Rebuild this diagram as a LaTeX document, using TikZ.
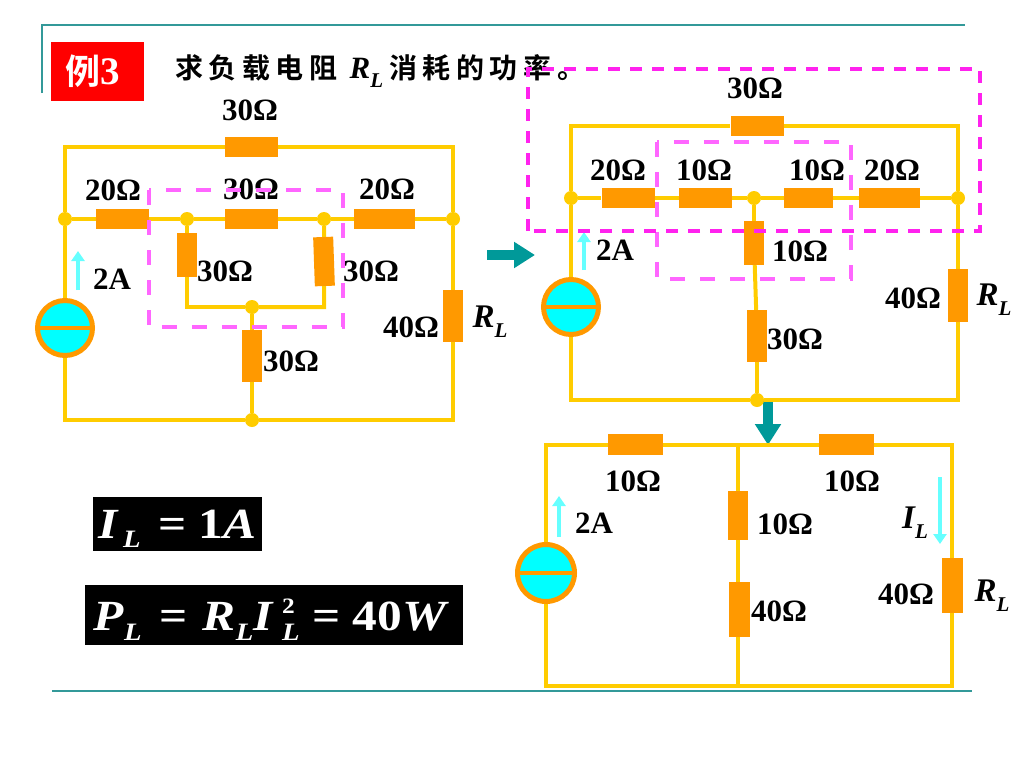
\documentclass[tikz,border=0pt]{standalone}
\usepackage{fontspec}
\usepackage{xcolor}
\setmainfont{Liberation Serif}
\newfontfamily\cjk[LetterSpace=20,BoldFont={Noto Sans CJK SC Bold}]{Noto Sans CJK SC}
\newfontfamily\cjktag[BoldFont={Noto Sans CJK SC Bold}]{Noto Sans CJK SC}
\newfontfamily\eqfont[FakeStretch=1.15]{Liberation Serif}
\usetikzlibrary{arrows.meta,positioning}
\definecolor{wirecol}{HTML}{FFCC00}
\definecolor{rescol}{HTML}{FF9900}
\definecolor{srccol}{HTML}{00FFFF}
\definecolor{curcol}{HTML}{66FFFF}
\definecolor{tealcol}{HTML}{009999}
\definecolor{rulecol}{HTML}{339999}
\definecolor{pinkcol}{HTML}{FF66FF}
\definecolor{magcol}{HTML}{FF22EE}
\newcommand{\symL}[1]{{\bfseries\itshape #1\raisebox{-.3em}{\fontsize{21}{21}\selectfont L}}}
\newcommand{\eqsub}[1]{\raisebox{#1}{\fontsize{25}{25}\selectfont\itshape L}}
\tikzset{
    wire/.style={draw=wirecol, line width=4pt},
    resh/.style={fill=rescol, inner sep=0pt, minimum width=53pt, minimum height=20pt},
    resv/.style={fill=rescol, inner sep=0pt, minimum width=20pt, minimum height=52pt},
    junc/.style={circle, fill=wirecol, inner sep=0pt, minimum size=14pt},
    srcnode/.style={circle, draw=rescol, fill=srccol, line width=5pt, inner sep=0pt, minimum size=55pt},
    srcbar/.style={draw=rescol, line width=4pt},
    lbl/.style={font=\fontsize{31}{31}\selectfont\bfseries, inner sep=0pt},
    symlbl/.style={font=\fontsize{33}{33}\selectfont\bfseries, inner sep=0pt},
    curarrow/.style={draw=curcol, line width=4pt, -{Triangle[length=10pt,width=13pt]}},
    bigarrow/.style={draw=tealcol, line width=10pt, -{Triangle[length=21pt,width=25pt]}},
    rulel/.style={draw=rulecol, line width=2pt},
    pinkbox/.style={draw=pinkcol, line width=4pt, dash pattern=on 15pt off 15pt},
    magbox/.style={draw=magcol, line width=3.5pt, dash pattern=on 12pt off 10pt},
    eqbox/.style={fill=black, text=white, inner sep=0pt, font=\fontsize{43}{43}\selectfont\eqfont\bfseries}
}
\begin{document}
\begin{tikzpicture}[x=1pt, y=-1pt]
    \useasboundingbox (0,0) rectangle (1024,768);

    % frame lines and heading
    \draw[rulel] (42,93) -- (42,25) -- (965,25);
    \draw[rulel] (52,691) -- (972,691);
    \node (tag) [fill=red, text=white, inner sep=0pt, minimum width=93pt, minimum height=59pt] at (97.5,71.5)
        {\fontsize{35}{35}\selectfont\cjktag\bfseries 例{\rmfamily\bfseries\fontsize{39}{39}\selectfont 3}\hspace{10pt}\mbox{}};
    \node (title) [anchor=west, inner sep=0pt, font=\fontsize{28}{28}\selectfont] at (175,71)
        {{\cjk\bfseries 求负载电阻}\hspace{12pt}{\fontsize{31}{31}\selectfont\symL{R}}\hspace{6pt}{\cjk\bfseries 消耗的功率。}};

    % first circuit
    \node (ra1) [resh] at (251.5,146.5) {};
    \node (ra2) [resh] at (122.5,219) {};
    \node (ra3) [resh] at (251.5,219) {};
    \node (ra4) [resh, minimum width=61pt] at (384.5,219) {};
    \node (ra5) [resv, minimum height=44pt] at (187,255) {};
    \node (ra6) [resv, minimum height=49pt, rotate=2] at (324,261.5) {};
    \node (ra7) [resv] at (252,356) {};
    \node (rl1) [resv] at (453,316) {};
    \node (ja1) [junc] at (65,219) {};
    \node (ja2) [junc] at (187,219) {};
    \node (ja3) [junc] at (324,219) {};
    \node (ja4) [junc] at (453,219) {};
    \node (ja5) [junc] at (252,307) {};
    \node (ja6) [junc] at (252,420) {};
    \node (src1) [srcnode] at (65,328) {};
    \coordinate (ca1) at (65,146.5);
    \coordinate (ca2) at (453,146.5);
    \coordinate (ca3) at (65,420);
    \coordinate (ca4) at (453,420);
    \coordinate (ca5) at (187,307);
    \coordinate (ca6) at (324,307);
    \coordinate (ia1) at (78,290);
    \coordinate (ia2) at (78,251);

    \draw[wire] (ja1) -- (ca1) -- (ra1);
    \draw[wire] (ra1) -- (ca2) -- (ja4);
    \draw[wire] (ja1) -- (ra2);
    \draw[wire] (ra2) -- (ja2);
    \draw[wire] (ja2) -- (ra3);
    \draw[wire] (ra3) -- (ja3);
    \draw[wire] (ja3) -- (ra4);
    \draw[wire] (ra4) -- (ja4);
    \draw[wire] (ja2) -- (ra5);
    \draw[wire] (ra5) -- (ca5) -- (ja5);
    \draw[wire] (ja3) -- (ra6);
    \draw[wire] (ra6) -- (ca6) -- (ja5);
    \draw[wire] (ja5) -- (ra7);
    \draw[wire] (ra7) -- (ja6);
    \draw[wire] (ja4) -- (rl1);
    \draw[wire] (rl1) -- (ca4) -- (ja6);
    \draw[wire] (ja6) -- (ca3) -- (src1);
    \draw[wire] (src1) -- (ja1);
    \draw[srcbar] (src1.west) -- (src1.east);
    \draw[curarrow] (ia1) -- (ia2);

    \node (ta1) [lbl] at (250,110) {30Ω};
    \node (ta2) [lbl] at (113,190) {20Ω};
    \node (ta3) [lbl] at (251,189) {30Ω};
    \node (ta4) [lbl] at (387,189) {20Ω};
    \node (ta5) [lbl] at (225,271) {30Ω};
    \node (ta6) [lbl] at (371,271) {30Ω};
    \node (ta7) [lbl] at (291,361) {30Ω};
    \node (ta8) [lbl] at (411,327) {40Ω};
    \node (ta9) [lbl] at (112,279) {2A};
    \node (ta10) [symlbl] at (490,322) {\symL{R}};

    % arrows between the circuits
    \coordinate (ga1) at (487,255);
    \coordinate (ga2) at (535,255);
    \coordinate (ga3) at (768,401);
    \coordinate (ga4) at (768,445);
    \draw[bigarrow] (ga1) -- (ga2);
    \draw[bigarrow] (ga3) -- (ga4);

    % second circuit
    \node (rb1) [resh] at (757,126) {};
    \node (rb2) [resh] at (628,198) {};
    \node (rb3) [resh] at (705.5,198) {};
    \node (rb4) [resh, minimum width=49pt] at (808.5,198) {};
    \node (rb5) [resh, minimum width=61pt] at (889.5,198) {};
    \node (rb6) [resv, minimum height=44pt] at (754,243) {};
    \node (rb7) [resv] at (757,336) {};
    \node (rl2) [resv, minimum height=53pt] at (958,295.5) {};
    \node (jb1) [junc] at (571,198) {};
    \node (jb2) [junc] at (754,198) {};
    \node (jb3) [junc] at (958,198) {};
    \node (jb4) [junc] at (757,400) {};
    \node (src2) [srcnode] at (571,307) {};
    \coordinate (cb1) at (571,126);
    \coordinate (cb2) at (958,126);
    \coordinate (cb3) at (571,400);
    \coordinate (cb4) at (958,400);
    \coordinate (ib1) at (584,270);
    \coordinate (ib2) at (584,232);

    \draw[wire] (jb1) -- (cb1) -- (rb1);
    \draw[wire] (rb1) -- (cb2) -- (jb3);
    \draw[wire] (jb1) -- (rb2);
    \draw[wire] (rb2) -- (rb3);
    \draw[wire] (rb3) -- (jb2);
    \draw[wire] (jb2) -- (rb4);
    \draw[wire] (rb4) -- (rb5);
    \draw[wire] (rb5) -- (jb3);
    \draw[wire] (jb2) -- (rb6);
    \draw[wire] (rb6) -- (rb7);
    \draw[wire] (rb7) -- (jb4);
    \draw[wire] (jb3) -- (rl2);
    \draw[wire] (rl2) -- (cb4) -- (jb4);
    \draw[wire] (jb4) -- (cb3) -- (src2);
    \draw[wire] (src2) -- (jb1);
    \draw[srcbar] (src2.west) -- (src2.east);
    \draw[curarrow] (ib1) -- (ib2);

    \node (tb1) [lbl] at (755,88) {30Ω};
    \node (tb2) [lbl] at (618,170) {20Ω};
    \node (tb3) [lbl] at (704,170) {10Ω};
    \node (tb4) [lbl] at (817,170) {10Ω};
    \node (tb5) [lbl] at (892,170) {20Ω};
    \node (tb6) [lbl] at (800,251) {10Ω};
    \node (tb7) [lbl] at (795,339) {30Ω};
    \node (tb8) [lbl] at (913,298) {40Ω};
    \node (tb9) [lbl] at (615,250) {2A};
    \node (tb10) [symlbl] at (994,300) {\symL{R}};

    % third circuit
    \node (rc1) [resh, minimum width=55pt, minimum height=21pt] at (635.5,444.5) {};
    \node (rc2) [resh, minimum width=55pt, minimum height=21pt] at (846.5,444.5) {};
    \node (rc3) [resv, minimum height=49pt] at (738,515.5) {};
    \node (rc4) [resv, minimum width=21pt, minimum height=55pt] at (739,609.5) {};
    \node (rl3) [resv, minimum width=21pt, minimum height=55pt] at (952,585.5) {};
    \node (src3) [srcnode, minimum size=57pt] at (546,573) {};
    \coordinate (cc1) at (546,444.5);
    \coordinate (cc2) at (738,444.5);
    \coordinate (cc3) at (952,444.5);
    \coordinate (cc4) at (546,686);
    \coordinate (cc5) at (738,686);
    \coordinate (cc6) at (952,686);
    \coordinate (ic1) at (559,537);
    \coordinate (ic2) at (559,496);
    \coordinate (ic3) at (940,477);
    \coordinate (ic4) at (940,544);

    \draw[wire] (src3) -- (cc1) -- (rc1);
    \draw[wire] (rc1) -- (cc2) -- (rc2);
    \draw[wire] (rc2) -- (cc3) -- (rl3);
    \draw[wire] (cc2) -- (rc3);
    \draw[wire] (rc3.south) -- (rc3.south |- rc4.north);
    \draw[wire] (rc3.south |- rc4.south) -- (cc5);
    \draw[wire] (src3) -- (cc4) -- (cc6) -- (rl3);
    \draw[srcbar] (src3.west) -- (src3.east);
    \draw[curarrow] (ic1) -- (ic2);
    \draw[curarrow] (ic3) -- (ic4);

    \node (tc1) [lbl] at (633,481) {10Ω};
    \node (tc2) [lbl] at (852,481) {10Ω};
    \node (tc3) [lbl] at (785,524) {10Ω};
    \node (tc4) [lbl] at (779,611) {40Ω};
    \node (tc5) [lbl] at (906,594) {40Ω};
    \node (tc6) [lbl] at (594,523) {2A};
    \node (tc7) [symlbl] at (915,523) {\symL{I}};
    \node (tc8) [symlbl] at (992,596) {\symL{R}};

    % results
    \node (eq1) [eqbox, minimum width=169pt, text height=41pt, text depth=13pt] at (177.5,524)
        {\textit{I}\hspace{4pt}\eqsub{-9pt}\hspace{18pt}=\hspace{12pt}1\textit{A}};
    \node (eq2) [eqbox, minimum width=378pt, text height=45pt, text depth=15pt] at (274,615)
        {\textit{P}\eqsub{-10pt}\hspace{18pt}=\hspace{15pt}\textit{R}\eqsub{-10pt}\textit{I}\hspace{8pt}\rlap{\eqsub{-10pt}}\raisebox{17pt}{\fontsize{22}{22}\selectfont 2}\hspace{18pt}=\hspace{12pt}40\textit{W}\hspace{5pt}\mbox{}};

    % dashed outlines, on top of everything
    \draw[pinkbox] (149,190) rectangle (343,327);
    \draw[pinkbox] (657,142) rectangle (851,279);
    \draw[magbox] (528,231) -- (528,69) -- (980,69) -- (980,231) -- cycle;
\end{tikzpicture}
\end{document}
